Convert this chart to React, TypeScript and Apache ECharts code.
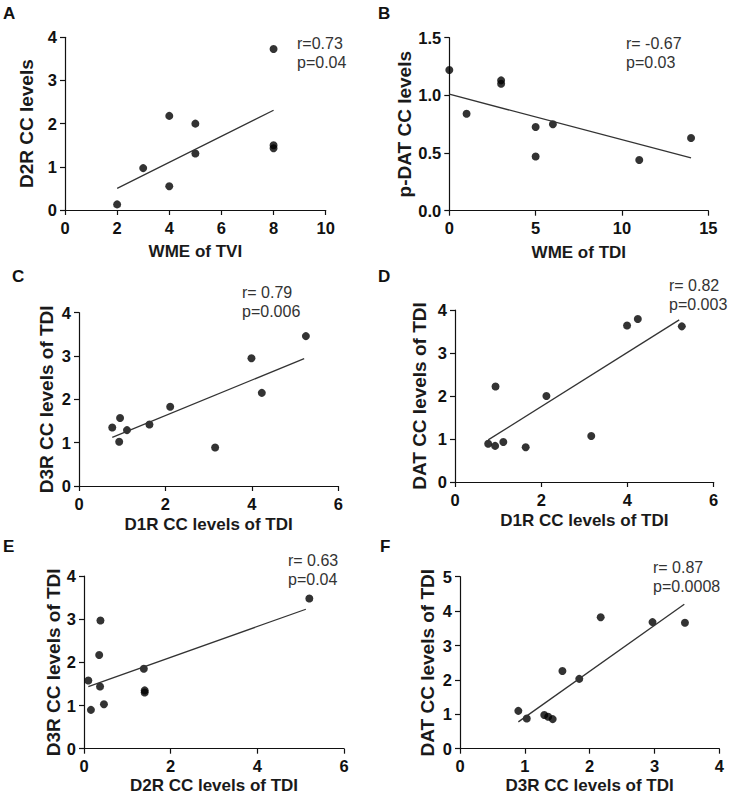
import React, { useEffect, useRef } from "react";
import * as echarts from "echarts";

// Panel A: WME of TVI vs D2R CC levels
const aX = [2, 3, 4, 4, 5, 5, 8, 8, 8];
const aY = [0.13, 0.97, 2.18, 0.55, 2.0, 1.31, 3.73, 1.5, 1.43];
const aFit = [[2, 0.5], [8, 2.31]];
// Panel B: WME of TDI vs p-DAT CC levels
const bX = [0, 1, 3, 3, 5, 5, 6, 11, 14];
const bY = [1.22, 0.84, 1.13, 1.1, 0.725, 0.47, 0.75, 0.44, 0.63];
const bFit = [[0, 1.01], [14, 0.457]];
// Panel C: D1R vs D3R
const cX = [0.77, 0.95, 0.93, 1.11, 1.63, 2.11, 3.15, 3.99, 4.23, 5.25];
const cY = [1.35, 1.57, 1.02, 1.29, 1.42, 1.83, 0.89, 2.95, 2.15, 3.46];
const cFit = [[0.77, 1.12], [5.21, 2.94]];
// Panel D: D1R vs DAT
const dX = [0.77, 0.93, 1.12, 0.94, 1.64, 2.12, 3.16, 3.99, 4.24, 5.26];
const dY = [0.89, 0.84, 0.93, 2.22, 0.81, 2.0, 1.07, 3.64, 3.79, 3.62];
const dFit = [[0.77, 0.98], [5.2, 3.77]];
// Panel E: D2R vs D3R
const eX = [0.1, 0.16, 0.38, 0.35, 0.37, 0.46, 1.38, 1.4, 1.4, 5.2];
const eY = [1.58, 0.9, 2.97, 2.17, 1.44, 1.03, 1.85, 1.35, 1.3, 3.48];
const eFit = [[0.1, 1.44], [5.12, 3.23]];
// Panel F: D3R vs DAT
const fX = [0.9, 1.03, 1.3, 1.36, 1.43, 1.58, 1.84, 2.17, 2.97, 3.47];
const fY = [1.1, 0.88, 0.98, 0.93, 0.86, 2.26, 2.03, 3.82, 3.68, 3.66];
const fFit = [[0.9, 0.78], [3.46, 4.2]];

const panelLetters = ["A", "B", "C", "D", "E", "F"];
const xTitles = ["WME of TVI", "WME of TDI", "D1R CC levels of TDI", "D1R CC levels of TDI", "D2R CC levels of TDI", "D3R CC levels of TDI"];
const yTitles = ["D2R CC levels", "p-DAT CC levels", "D3R CC levels of TDI", "DAT CC levels of TDI", "D3R CC levels of TDI", "DAT CC levels of TDI"];
const rTexts = ["r=0.73", "r= -0.67", "r= 0.79", "r= 0.82", "r= 0.63", "r= 0.87"];
const pTexts = ["p=0.04", "p=0.03", "p=0.006", "p=0.003", "p=0.04", "p=0.0008"];
const xMax = [10, 15, 6, 6, 6, 4];
const xStep = [2, 5, 2, 2, 2, 1];
const yMax = [4, 1.5, 4, 4, 4, 5];
const yStep = [1, 0.5, 1, 1, 1, 1];

const FONT = "'Liberation Sans', Arial, Helvetica, sans-serif";

export default function App() {
  const ref = useRef<HTMLDivElement>(null);
  useEffect(() => {
    if (!ref.current) return;
    const chart = echarts.init(ref.current, null, { renderer: "svg" });
    const xs = [aX, bX, cX, dX, eX, fX];
    const ys = [aY, bY, cY, dY, eY, fY];
    const fits = [aFit, bFit, cFit, dFit, eFit, fFit];

    const grids = [
      { left: 65, top: 37.3, width: 260.7, height: 172.7 },
      { left: 449.3, top: 37.7, width: 259, height: 173 },
      { left: 79, top: 312.7, width: 259.3, height: 173.3 },
      { left: 455, top: 310, width: 258.7, height: 172 },
      { left: 84, top: 576, width: 260, height: 172.7 },
      { left: 460, top: 576.7, width: 259.3, height: 172 },
    ];
    const xGaps = [33, 33, 30, 30, 28, 28];
    const yGaps = [29, 32, 23, 26, 21, 23];
    const letterPos = [[3, 5], [378, 5], [12, 268], [378, 268], [3, 538], [380, 538]];
    const rpPos = [[297, 38], [626, 38], [242, 287], [669, 280], [288, 555], [653, 562]];

    const axisLine = { show: true, lineStyle: { color: "#111", width: 1.2 } };
    const axisTick = { show: true, length: 5, inside: false, lineStyle: { color: "#111", width: 1.2 } };

    const xAxis = grids.map((_, i) => ({
      type: "value",
      gridIndex: i,
      min: 0,
      max: xMax[i],
      interval: xStep[i],
      axisLine,
      axisTick,
      splitLine: { show: false },
      axisLabel: { color: "#111", fontSize: 16.5, fontWeight: "bold", fontFamily: FONT, margin: 9 },
      name: xTitles[i],
      nameLocation: "middle",
      nameGap: xGaps[i],
      nameTextStyle: { color: "#1a1a1a", fontSize: 17, fontWeight: "bold", fontFamily: FONT },
    }));
    const yAxis = grids.map((_, i) => ({
      type: "value",
      gridIndex: i,
      min: 0,
      max: yMax[i],
      interval: yStep[i],
      axisLine,
      axisTick,
      splitLine: { show: false },
      axisLabel: {
        color: "#111",
        fontSize: 16.5,
        fontWeight: "bold",
        fontFamily: FONT,
        margin: 8,
        formatter: (v: number) => (yStep[i] < 1 ? v.toFixed(1) : String(v)),
      },
      name: yTitles[i],
      nameLocation: "middle",
      nameGap: yGaps[i],
      nameTextStyle: { color: "#1a1a1a", fontSize: 19, fontWeight: "bold", fontFamily: FONT },
    }));

    const series: any[] = [];
    grids.forEach((_, i) => {
      series.push({
        type: "line",
        xAxisIndex: i,
        yAxisIndex: i,
        data: fits[i],
        symbol: "none",
        lineStyle: { color: "#333", width: 1.3 },
        silent: true,
      });
      series.push({
        type: "scatter",
        xAxisIndex: i,
        yAxisIndex: i,
        data: xs[i].map((x, k) => [x, ys[i][k]]),
        symbol: "circle",
        symbolSize: 8,
        itemStyle: { color: "#000" },
      });
    });

    const graphic: any[] = [];
    panelLetters.forEach((l, i) => {
      graphic.push({
        type: "text",
        x: letterPos[i][0],
        y: letterPos[i][1],
        style: { text: l, fontSize: 17, fontWeight: "bold", fontFamily: FONT, fill: "#111", verticalAlign: "top" },
      });
      graphic.push({
        type: "text",
        x: rpPos[i][0],
        y: rpPos[i][1] - 3,
        style: { text: rTexts[i], fontSize: 16, fontFamily: FONT, fill: "#333", verticalAlign: "top" },
      });
      graphic.push({
        type: "text",
        x: rpPos[i][0],
        y: rpPos[i][1] + 16,
        style: { text: pTexts[i], fontSize: 16, fontFamily: FONT, fill: "#333", verticalAlign: "top" },
      });
    });

    chart.setOption({
      animation: false,
      backgroundColor: "#ffffff",
      grid: grids.map((g) => ({ ...g, containLabel: false })),
      xAxis,
      yAxis,
      series,
      graphic,
    });
    return () => chart.dispose();
  }, []);
  return (
    <div
      ref={ref}
      style={{ position: "fixed", left: 0, top: 0, width: 729, height: 796, background: "#fff" }}
    />
  );
}
